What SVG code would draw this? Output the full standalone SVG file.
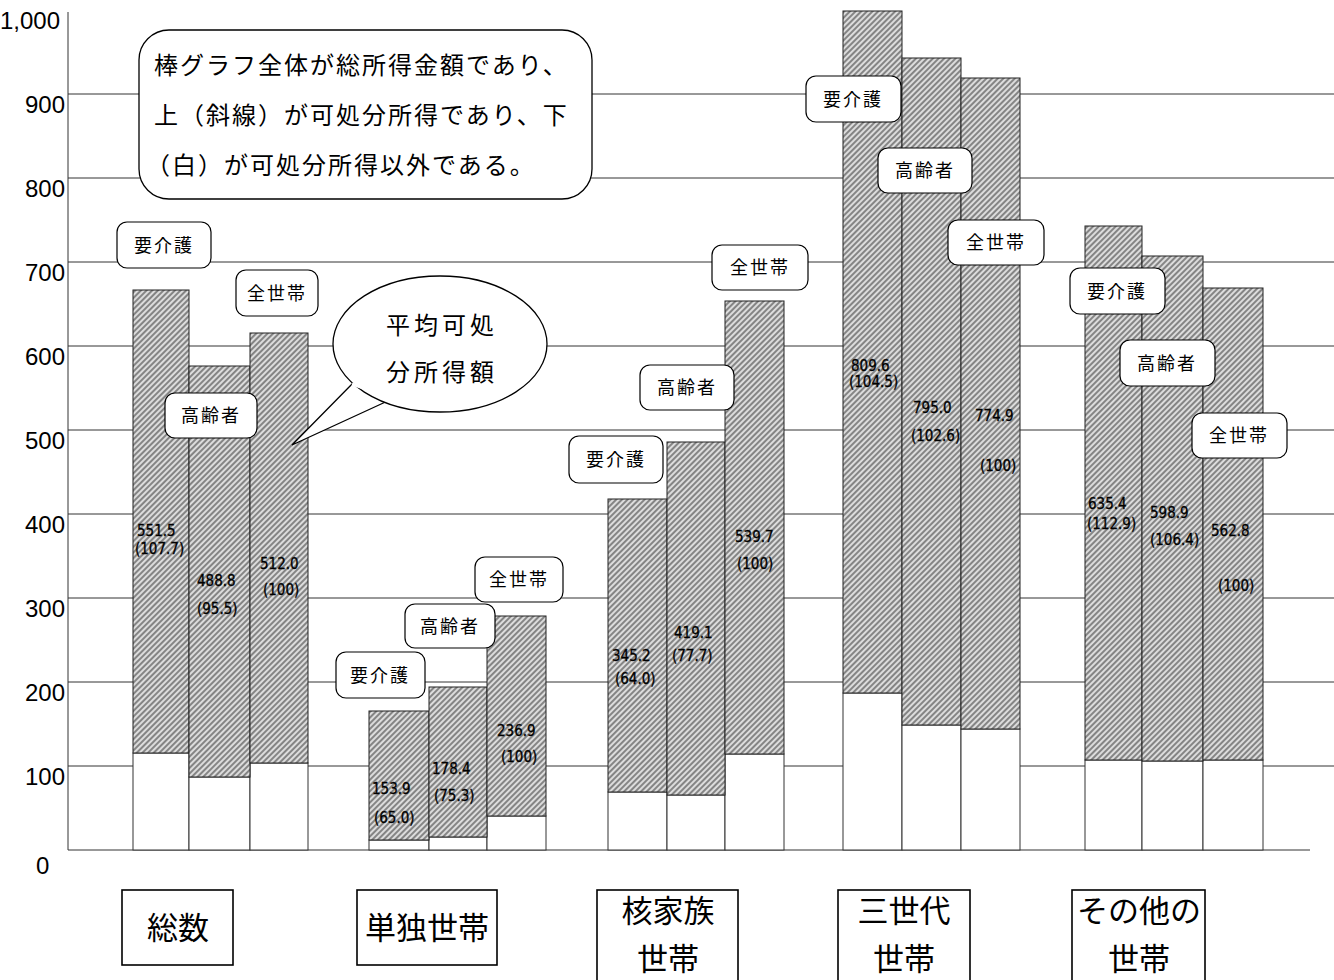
<svg xmlns="http://www.w3.org/2000/svg" width="1334" height="980" viewBox="0 0 1334 980">
<style>
.ax{font-family:"Liberation Sans",Arial,sans-serif;font-size:24px;fill:#000}
.grid{stroke:#333;stroke-width:1;fill:none}
.hat{fill:url(#hatch);stroke:#222;stroke-width:1}
.wht{fill:#fff;stroke:#333;stroke-width:1}
.val{font-family:"Liberation Sans Narrow","DejaVu Sans Condensed","Liberation Sans",sans-serif;font-size:15px;fill:#000;stroke:#000;stroke-width:0.3}
.lbl rect{fill:#fff;stroke:#000;stroke-width:1.2}
.lbl text{font-family:"Noto Sans CJK JP",sans-serif;font-size:18px;letter-spacing:2px;text-anchor:middle;fill:#000}
.cat rect{fill:#fff;stroke:#000;stroke-width:1.6}
.cat text{font-family:"Noto Sans CJK JP",sans-serif;font-size:31px;text-anchor:middle;fill:#000}
.note{font-family:"Noto Sans CJK JP",sans-serif;font-size:24px;letter-spacing:2px;fill:#000}
.bub{font-family:"Noto Sans CJK JP",sans-serif;font-size:24px;letter-spacing:4px;text-anchor:middle;fill:#000}
</style>
<defs>
<pattern id="hatch" width="4" height="4" patternUnits="userSpaceOnUse" patternTransform="rotate(45)">
<rect width="4" height="4" fill="#dcdcdc"/>
<line x1="1" y1="0" x2="1" y2="4" stroke="#555" stroke-width="1.3"/>
</pattern>
</defs>
<rect width="1334" height="980" fill="#fff"/>

<g id="axis">
<line class="grid" x1="68" y1="12" x2="68" y2="850"/>
<g id="gridlines">
<line class="grid" x1="68" y1="850" x2="1310" y2="850"/>
<line class="grid" x1="68" y1="766" x2="1334" y2="766"/>
<line class="grid" x1="68" y1="682" x2="1334" y2="682"/>
<line class="grid" x1="68" y1="598" x2="1334" y2="598"/>
<line class="grid" x1="68" y1="514" x2="1334" y2="514"/>
<line class="grid" x1="68" y1="430" x2="1334" y2="430"/>
<line class="grid" x1="68" y1="346" x2="1334" y2="346"/>
<line class="grid" x1="68" y1="262" x2="1334" y2="262"/>
<line class="grid" x1="68" y1="178" x2="1334" y2="178"/>
<line class="grid" x1="68" y1="94" x2="1334" y2="94"/>
</g>
<text class="ax" x="0" y="29">1,000</text>
<text class="ax" x="65" y="113" text-anchor="end">900</text>
<text class="ax" x="65" y="197" text-anchor="end">800</text>
<text class="ax" x="65" y="281" text-anchor="end">700</text>
<text class="ax" x="65" y="365" text-anchor="end">600</text>
<text class="ax" x="65" y="449" text-anchor="end">500</text>
<text class="ax" x="65" y="533" text-anchor="end">400</text>
<text class="ax" x="65" y="617" text-anchor="end">300</text>
<text class="ax" x="65" y="701" text-anchor="end">200</text>
<text class="ax" x="65" y="785" text-anchor="end">100</text>
<text class="ax" x="36" y="874">0</text>
</g>

<g id="bars-total">
<rect class="wht" x="133" y="753" width="56" height="97"/>
<rect class="wht" x="189" y="777" width="61" height="73"/>
<rect class="wht" x="250" y="763" width="58" height="87"/>
<rect class="hat" x="133" y="290" width="56" height="463"/>
<rect class="hat" x="189" y="366" width="61" height="411"/>
<rect class="hat" x="250" y="333" width="58" height="430"/>
<text class="val" x="137" y="536">551.5</text>
<text class="val" x="135" y="554">(107.7)</text>
<text class="val" x="197" y="586">488.8</text>
<text class="val" x="197" y="614">(95.5)</text>
<text class="val" x="260" y="569">512.0</text>
<text class="val" x="263" y="595">(100)</text>
</g>

<g id="bars-single">
<rect class="wht" x="369" y="840" width="60" height="10"/>
<rect class="wht" x="429" y="837" width="58" height="13"/>
<rect class="wht" x="487" y="816" width="59" height="34"/>
<rect class="hat" x="369" y="711" width="60" height="129"/>
<rect class="hat" x="429" y="687" width="58" height="150"/>
<rect class="hat" x="487" y="616" width="59" height="200"/>
<text class="val" x="372" y="794">153.9</text>
<text class="val" x="374" y="823">(65.0)</text>
<text class="val" x="432" y="774">178.4</text>
<text class="val" x="434" y="801">(75.3)</text>
<text class="val" x="497" y="736">236.9</text>
<text class="val" x="501" y="762">(100)</text>
</g>

<g id="bars-nuclear">
<rect class="wht" x="608" y="792" width="59" height="58"/>
<rect class="wht" x="667" y="795" width="58" height="55"/>
<rect class="wht" x="725" y="754" width="59" height="96"/>
<rect class="hat" x="608" y="499" width="59" height="293"/>
<rect class="hat" x="667" y="442" width="58" height="353"/>
<rect class="hat" x="725" y="301" width="59" height="453"/>
<text class="val" x="612" y="661">345.2</text>
<text class="val" x="615" y="684">(64.0)</text>
<text class="val" x="674" y="638">419.1</text>
<text class="val" x="672" y="661">(77.7)</text>
<text class="val" x="735" y="542">539.7</text>
<text class="val" x="737" y="569">(100)</text>
</g>

<g id="bars-three">
<rect class="wht" x="843" y="693" width="59" height="157"/>
<rect class="wht" x="902" y="725" width="59" height="125"/>
<rect class="wht" x="961" y="729" width="59" height="121"/>
<rect class="hat" x="843" y="11" width="59" height="682"/>
<rect class="hat" x="902" y="58" width="59" height="667"/>
<rect class="hat" x="961" y="78" width="59" height="651"/>
<text class="val" x="851" y="371">809.6</text>
<text class="val" x="849" y="387">(104.5)</text>
<text class="val" x="913" y="413">795.0</text>
<text class="val" x="911" y="441">(102.6)</text>
<text class="val" x="975" y="421">774.9</text>
<text class="val" x="980" y="471">(100)</text>
</g>

<g id="bars-other">
<rect class="wht" x="1085" y="760" width="57" height="90"/>
<rect class="wht" x="1142" y="761" width="61" height="89"/>
<rect class="wht" x="1203" y="760" width="60" height="90"/>
<rect class="hat" x="1085" y="226" width="57" height="534"/>
<rect class="hat" x="1142" y="256" width="61" height="505"/>
<rect class="hat" x="1203" y="288" width="60" height="472"/>
<text class="val" x="1088" y="509">635.4</text>
<text class="val" x="1087" y="529">(112.9)</text>
<text class="val" x="1150" y="518">598.9</text>
<text class="val" x="1150" y="545">(106.4)</text>
<text class="val" x="1211" y="536">562.8</text>
<text class="val" x="1218" y="591">(100)</text>
</g>

<g id="labels-total" class="lbl">
<rect x="117" y="222" width="94" height="46" rx="10"/><text x="164" y="252">要介護</text>
<rect x="236" y="270" width="82" height="46" rx="10"/><text x="277" y="300">全世帯</text>
<rect x="165" y="393" width="92" height="45" rx="10"/><text x="211" y="422">高齢者</text>
</g>
<g id="labels-single" class="lbl">
<rect x="475" y="557" width="88" height="45" rx="10"/><text x="519" y="586">全世帯</text>
<rect x="405" y="604" width="90" height="44" rx="10"/><text x="450" y="633">高齢者</text>
<rect x="336" y="652" width="89" height="46" rx="10"/><text x="380" y="682">要介護</text>
</g>
<g id="labels-nuclear" class="lbl">
<rect x="712" y="245" width="96" height="45" rx="10"/><text x="760" y="274">全世帯</text>
<rect x="640" y="365" width="94" height="45" rx="10"/><text x="687" y="394">高齢者</text>
<rect x="569" y="436" width="94" height="47" rx="10"/><text x="616" y="466">要介護</text>
</g>
<g id="labels-three" class="lbl">
<rect x="806" y="76" width="95" height="46" rx="10"/><text x="853" y="106">要介護</text>
<rect x="878" y="148" width="94" height="45" rx="10"/><text x="925" y="177">高齢者</text>
<rect x="948" y="220" width="96" height="45" rx="10"/><text x="996" y="249">全世帯</text>
</g>
<g id="labels-other" class="lbl">
<rect x="1070" y="268" width="95" height="46" rx="10"/><text x="1117" y="298">要介護</text>
<rect x="1120" y="340" width="95" height="46" rx="10"/><text x="1167" y="370">高齢者</text>
<rect x="1192" y="413" width="95" height="45" rx="10"/><text x="1239" y="442">全世帯</text>
</g>

<g id="note">
<rect x="139" y="30" width="453" height="169" rx="30" fill="#fff" stroke="#000" stroke-width="1.3"/>
<text class="note" x="154" y="74">棒グラフ全体が総所得金額であり、</text>
<text class="note" x="154" y="124">上（斜線）が可処分所得であり、下</text>
<text class="note" x="146" y="174">（白）が可処分所得以外である。</text>
</g>

<g id="bubble">
<path d="M 355 381 L 292 445 L 392 399" fill="#fff" stroke="#000" stroke-width="1.3"/>
<ellipse cx="440" cy="344" rx="107" ry="68" fill="#fff" stroke="#000" stroke-width="1.3"/>
<path d="M 352 384 L 392 398" fill="none" stroke="#fff" stroke-width="3"/>
<text class="bub" x="442" y="334">平均可処</text>
<text class="bub" x="442" y="381">分所得額</text>
</g>

<g id="cat-total" class="cat"><rect x="122" y="890" width="111" height="75"/><text x="178" y="939">総数</text></g>
<g id="cat-single" class="cat"><rect x="357" y="890" width="140" height="75"/><text x="427" y="939">単独世帯</text></g>
<g id="cat-nuclear" class="cat"><rect x="597" y="890" width="141" height="100"/><text x="668" y="922">核家族</text><text x="668" y="970">世帯</text></g>
<g id="cat-three" class="cat"><rect x="838" y="890" width="132" height="100"/><text x="904" y="922">三世代</text><text x="904" y="970">世帯</text></g>
<g id="cat-other" class="cat"><rect x="1072" y="890" width="133" height="100"/><text x="1139" y="922">その他の</text><text x="1139" y="970">世帯</text></g>
</svg>
